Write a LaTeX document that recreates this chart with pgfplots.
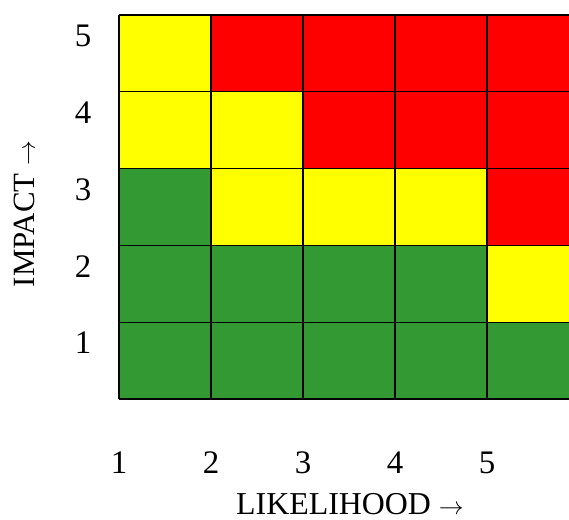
\documentclass[border=0pt]{standalone}
\usepackage{fontspec}
\setmainfont{Liberation Serif}
\usepackage{pgfplots}
\usepackage{pgfplotstable}
\pgfplotsset{compat=1.18}
\pgfplotstableread{
x y c
1.5 0.5 0
2.5 0.5 0
3.5 0.5 0
4.5 0.5 0
5.5 0.5 0
1.5 1.5 0
2.5 1.5 0
3.5 1.5 0
4.5 1.5 0
5.5 1.5 1
1.5 2.5 0
2.5 2.5 1
3.5 2.5 1
4.5 2.5 1
5.5 2.5 2
1.5 3.5 1
2.5 3.5 1
3.5 3.5 2
4.5 3.5 2
5.5 3.5 2
1.5 4.5 1
2.5 4.5 2
3.5 4.5 2
4.5 4.5 2
5.5 4.5 2
}\riskdata
\begin{document}
\begin{tikzpicture}
\begin{axis}[
  name=ax,
  scale only axis,
  width=450bp, height=384bp,
  xmin=1, xmax=5.891, ymin=0, ymax=5,
  axis on top,
  colormap={risk}{rgb255=(51,153,51) rgb255=(255,255,0) rgb255=(255,0,0)},
  point meta min=0, point meta max=2,
  xtick={1,2,3,4,5}, xticklabels={1,2,3,4,5},
  ytick={0.73,1.73,2.73,3.73,4.73}, yticklabels={1,2,3,4,5},
  minor xtick={2,3,4,5}, minor ytick={1,2,3,4,5},
  grid=minor,
  minor grid style={black, line width=1.3bp},
  major tick length=0pt, minor tick length=0pt,
  axis x line*=bottom, axis y line*=left,
  axis line style={black, line width=2bp},
  /pgf/number format/assume math mode=true,
  tick label style={font=\fontsize{33}{39}\selectfont},
  xticklabel style={anchor=center, yshift=-64bp},
  yticklabel style={anchor=center, xshift=-36bp},
]
\addplot[matrix plot*, mesh/cols=5, point meta=explicit] table[meta=c] {\riskdata};
\end{axis}
\node[anchor=base, inner sep=1bp, font=\fontsize{32}{38}\selectfont] at ([xshift=6bp, yshift=-115bp]ax.south) {LIKELIHOOD $\rightarrow$};
\node[anchor=base, rotate=90, font=\fontsize{31}{37}\selectfont] at ([xshift=-84bp, yshift=-7bp]ax.west) {IMPACT $\rightarrow$};
\pgfresetboundingbox
\path[use as bounding box] ([shift={(-119bp,-121bp)}]ax.south west) rectangle ([shift={(0bp,15bp)}]ax.north east);
\end{tikzpicture}
\end{document}
